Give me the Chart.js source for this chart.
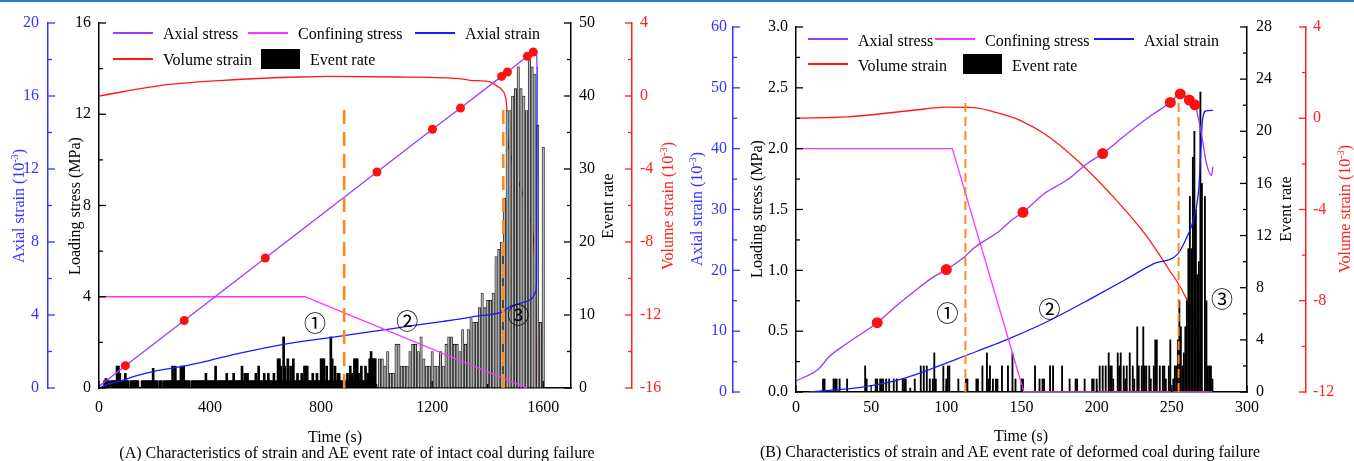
<!DOCTYPE html>
<html>
<head>
<meta charset="utf-8">
<script src="https://cdn.jsdelivr.net/npm/chart.js@4.4.1/dist/chart.umd.min.js"></script>
<style>
  html, body { margin: 0; padding: 0; background: #fff; }
  body { width: 1354px; height: 461px; position: relative; overflow: hidden;
         font-family: "Liberation Serif", "Times New Roman", serif; }
  canvas { position: absolute; top: 0; }
  .t { position: absolute; white-space: nowrap; font-size: 16px; line-height: 18px; color: #000; }
  .c { transform: translate(-50%, -50%); }
  .rot { transform: translate(-50%, -50%) rotate(-90deg); }
  .ln { position: absolute; height: 1.5px; width: 40px; }
  .box { position: absolute; width: 39px; height: 20px; background: #000; }
  sup { font-size: 10px; line-height: 0; vertical-align: 6px; }
</style>
</head>
<body>
<div style="position:absolute;left:0;top:0;width:1354px;height:2px;background:#2b7bbf"></div>
<canvas id="chartA" width="680" height="461" style="left:0"></canvas>
<canvas id="chartB" width="674" height="461" style="left:680px"></canvas>

<!-- legend, panel A -->
<div class="ln" style="left:113px;top:32px;background:#9a3cff"></div>
<div class="t" style="left:163px;top:25px">Axial stress</div>
<div class="ln" style="left:248px;top:32px;background:#ff33ff"></div>
<div class="t" style="left:298px;top:25px">Confining stress</div>
<div class="ln" style="left:415px;top:32px;background:#1a1aff"></div>
<div class="t" style="left:465px;top:25px">Axial strain</div>
<div class="ln" style="left:113px;top:58px;background:#ff1a1a"></div>
<div class="t" style="left:163px;top:51px">Volume strain</div>
<div class="box" style="left:261px;top:49px"></div>
<div class="t" style="left:310px;top:51px">Event rate</div>

<!-- legend, panel B -->
<div class="ln" style="left:808px;top:38px;background:#9a3cff"></div>
<div class="t" style="left:858px;top:32px">Axial stress</div>
<div class="ln" style="left:935px;top:38px;background:#ff33ff"></div>
<div class="t" style="left:985px;top:32px">Confining stress</div>
<div class="ln" style="left:1094px;top:38px;background:#1a1aff"></div>
<div class="t" style="left:1144px;top:32px">Axial strain</div>
<div class="ln" style="left:808px;top:63px;background:#ff1a1a"></div>
<div class="t" style="left:858px;top:57px">Volume strain</div>
<div class="box" style="left:963px;top:54px"></div>
<div class="t" style="left:1012px;top:57px">Event rate</div>

<!-- axis titles -->
<div class="t rot" style="left:19px;top:206px;color:#3535ff">Axial strain (10<sup>-3</sup>)</div>
<div class="t rot" style="left:75px;top:206px">Loading stress (MPa)</div>
<div class="t rot" style="left:608px;top:206px">Event rate</div>
<div class="t rot" style="left:668px;top:206px;color:#ff2020">Volume strain (10<sup>-3</sup>)</div>
<div class="t rot" style="left:697px;top:209px;color:#3535ff">Axial strain (10<sup>-3</sup>)</div>
<div class="t rot" style="left:757px;top:209px">Loading stress (MPa)</div>
<div class="t rot" style="left:1286px;top:209px">Event rate</div>
<div class="t rot" style="left:1345px;top:209px;color:#ff2020">Volume strain (10<sup>-3</sup>)</div>

<div class="t c" style="left:335px;top:437px">Time (s)</div>
<div class="t c" style="left:1021px;top:436px">Time (s)</div>
<div class="t c" style="left:357px;top:453px">(A) Characteristics of strain and AE event rate of intact coal during failure</div>
<div class="t c" style="left:1010px;top:452px">(B) Characteristics of strain and AE event rate of deformed coal during failure</div>

<script>
// ===== Panel A: intact coal =====
const timeA_stress   = [0, 95, 307, 599, 1001, 1201, 1302, 1450, 1471, 1543, 1564, 1576, 1578];
const stressA        = [0.07, 0.98, 2.96, 5.70, 9.47, 11.34, 12.27, 13.66, 13.85, 14.54, 14.73, 14.75, 14.0];
const timeA_dots     = [95, 307, 599, 1001, 1201, 1302, 1450, 1471, 1543, 1564];
const stressA_dots   = [0.98, 2.96, 5.70, 9.47, 11.34, 12.27, 13.66, 13.85, 14.54, 14.73];
const timeA_confine  = [0, 742, 1541];
const confineA       = [4, 4, 0];
const timeA_axial    = [0, 30, 72, 130, 198, 300, 400, 504, 670, 838, 1006, 1110, 1240, 1373, 1457, 1470, 1485, 1520, 1562, 1572, 1576, 1578];
const axialStrainA   = [0, 0.2, 0.36, 0.65, 0.91, 1.18, 1.52, 1.9, 2.41, 2.77, 3.14, 3.38, 3.65, 3.96, 4.2, 4.35, 4.5, 4.65, 4.95, 5.25, 5.9, 17.6];
const timeA_volume   = [0, 244, 483, 724, 832, 1073, 1312, 1337, 1409, 1433, 1451, 1463, 1469, 1471, 1481, 1517, 1547, 1565, 1571, 1577];
const volumeStrainA  = [0, 0.62, 0.89, 1.04, 1.07, 1.04, 0.93, 0.86, 0.78, 0.55, 0.34, 0, -0.75, -2.0, -3.1, -4.95, -6.4, -7.9, -9.7, -15.9];
const timeA_phase    = [883, 1456];       // stage boundaries (s)
// AE event rate, 0-995 s in 5 s bins
const eventStepA1 = 5;
const eventA1 = [
  0,0,0,0,1,1.3,1,1,0,1,   1,1,1,3,3,2,1,1,1,2,   1,1,0,1,1,1,1,1,1,0,   0,1,1,1,1,1,1,1,1,2.7,
  1,1,1,0,1,1,0,1,1,1,     1,1,1,3,1,3,1,1,1,3,   3,3,1,1,1,1,0,1,1,1,   1,1,1,1,1,1,1,2,1,1,
  1,1,1,1,3,1,1,1,1,1,     1,1,2,1,1,1,1,2,1,1,   1,1,1,3,1,2,2,2,1,1,   1,1,1,2,1,3,1,1,1,2,
  1,1,2,1,1,1,2,1,1,4,     4,3,1,7,3,1,4,1,3,1,   4,1,1,2,1,1,2,1,3,3,   3,1,1,1,2,1,1,2,1,1,
  4,4,4,1,3,1,1,7,4,1,     3,1,2,2,1,1,0,0,1,2,   1,3,2,1,4,4,4,2,1,3,   1,1,3,1,2,4,5,4,4,4
];
// AE event rate, 1010-1600 s in 10 s bins
const eventStartA2 = 1010, eventStepA2 = 10;
const eventA2 = [
  4,4,3,5,2,2,6,6,3,3,   3,5,6,6,5,7,4,3,3,5,   3,3,5,3,6,7,7,6,6,5,
  8,6,8,9.5,9,9,11,13,11,12,   12,13,18,19,20,26,38,38,40,41,   44,41,40,38,45,44,43,36,9,33
];
const stageLabelsA = ['\u2460', '\u2461', '\u2462'];
const stageTimeA   = [778, 1110, 1510];
const stageStressA = [2.86, 2.95, 3.21];
const ticksA = {
  x: [0, 400, 800, 1200, 1600],
  strain: [0, 4, 8, 12, 16, 20],
  stress: [0, 4, 8, 12, 16],
  event: [0, 10, 20, 30, 40, 50],
  volume: [-16, -12, -8, -4, 0, 4]
};

// ===== Panel B: deformed coal =====
const timeB_stress   = [0, 15, 22, 34, 54, 67, 80, 92, 100, 112, 118, 136, 143, 151, 165, 180, 194, 204, 220, 236, 249, 255.6, 261.6, 265.3, 268.5, 270.4, 273, 276.4, 277.3];
const stressB        = [0.09, 0.19, 0.29, 0.40, 0.57, 0.71, 0.84, 0.95, 1.006, 1.11, 1.18, 1.33, 1.41, 1.477, 1.63, 1.74, 1.88, 1.96, 2.12, 2.27, 2.38, 2.45, 2.40, 2.36, 2.2, 2.07, 1.88, 1.78, 1.85];
const timeB_dots     = [54, 100, 151, 204, 249, 255.6, 261.6, 265.3];
const stressB_dots   = [0.57, 1.006, 1.477, 1.96, 2.38, 2.45, 2.40, 2.36];
const timeB_confine  = [0, 104, 151.6, 277];
const confineB       = [2, 2, 0, 0];
const timeB_axial    = [9, 22, 36, 51, 67, 80, 93, 113, 131, 143, 169, 198, 220, 238, 254, 261, 264, 268, 269.3, 270.4, 272.7, 277.3];
const axialStrainB   = [0, 0.28, 0.55, 1.1, 1.92, 2.9, 4.1, 6.0, 7.7, 8.9, 11.8, 15.6, 18.6, 21.1, 22.7, 26, 28, 33.7, 39.7, 44.7, 46.2, 46.3];
const timeB_volume   = [0, 34, 78, 100, 118, 136, 149, 165, 187, 209, 232, 247, 258, 265, 268, 269.3];
const volumeStrainB  = [0, 0.06, 0.35, 0.49, 0.47, 0.20, -0.09, -0.67, -1.84, -3.3, -5.06, -6.52, -7.69, -8.86, -10.17, -12];
const timeB_phase    = [112.7, 254.5];
const eventTimeB = [
  18,19,25,26,27,29,34,46,47,53, 54,56,57,58,60,62,65,67,71,72, 73,76,79,83,85,87,89,91,92,93,
  98,100,101,102,108,113,114,120,121,124, 127,128,129,131,133,134,137,141,
  144,146,150,151,159,162,164,165,169,171, 177,182,186,187,192,197,198,200,202,204,
  206,208,209,210,211,214,215,216,218,219, 220,222,224,225,227,228,230,231,232,233,
  235,236,238,239,240,242,244,245,246,248, 249,251,252,
  253,254,255,256,257,258,259,260,261,262,263,264,265,266,267,268,269,270,272,273,274,275,276,277
];
const eventB = [
  1,1,1,1,1,1,1,2,1,1, 1,1,1,1,1,1,1,1,1,1, 1,0.3,1,2,2,2,1,1,3,1,
  2,1,2,2,1,1,1,1,1,2, 3,1,2,1,1,1,2,2,
  3,1,1,1,2,1,1,1,2,2, 2,1,1,1,1,1,1,1,2,2,
  2,3,2,2,1,3,2,3,2,1, 2,3,2,1,5,2,2,5,2,2,
  2,1,2,4,4,2,2,2,1,2, 4,1,2,
  2,4,7,5,2,3,5,7,11,15,11,18,20,14,9,10,23,16,15,7,2,2,2,1
];
const stageLabelsB = ['\u2460', '\u2461', '\u2462'];
const stageTimeB   = [100.7, 168.7, 283.3];
const stageStressB = [0.655, 0.688, 0.77];
const ticksB = {
  x: [0, 50, 100, 150, 200, 250, 300],
  strain: [0, 10, 20, 30, 40, 50, 60],
  stress: [0, 0.5, 1.0, 1.5, 2.0, 2.5, 3.0],
  event: [0, 4, 8, 12, 16, 20, 24, 28],
  volume: [-12, -8, -4, 0, 4]
};

// ===== shared helpers =====
const FONT = '"Liberation Serif", "Times New Roman", serif';
const C = { stress: '#9a3cff', confine: '#ff33ff', axial: '#1a1aff', volume: '#ff1a1a',
            dot: '#ff1010', phase: '#ff8a1c', strainAxis: '#3535ff', volAxis: '#ff2020' };
const pts = (xs, ys) => xs.map((x, i) => ({ x: x, y: ys[i] }));
const gridPts = (start, step, ys) => ys.map((y, i) => ({ x: start + i * step, y: y }));
const phasePts = (t, top) => [{ x: t, y: 0 }, { x: t, y: top }];

function yAxis(o) {
  return {
    type: 'linear', position: o.pos, min: o.min, max: o.max, weight: o.weight,
    grid: { display: true, drawOnChartArea: false, drawTicks: false },
    border: { display: true, color: o.color, width: 1.5 },
    ticks: { color: o.color, padding: o.pad, autoSkip: false,
             font: { family: FONT, size: 16 }, callback: o.fmt || (v => String(v)) },
    afterBuildTicks: s => { s.ticks = o.vals.map(v => ({ value: v })); },
    afterFit: s => { s.width = o.width; }
  };
}
function xAxis(o) {
  return {
    type: 'linear', position: 'bottom', min: 0, max: o.max, offset: false,
    grid: { display: true, drawOnChartArea: false, drawTicks: false },
    border: { display: true, color: '#000', width: 1.5 },
    ticks: { color: '#000', padding: o.pad, autoSkip: false,
             maxRotation: 0, font: { family: FONT, size: 16 }, callback: v => String(v) },
    afterBuildTicks: s => { s.ticks = o.vals.map(v => ({ value: v })); },
    afterFit: s => { s.height = o.height; }
  };
}

// inward-pointing major/minor tick marks and the circled stage numbers
function marksPlugin(specs, notes) {
  return {
    id: 'marks',
    afterDraw(chart) {
      const ctx = chart.ctx;
      specs.forEach(sp => {
        const sc = chart.scales[sp.id];
        ctx.save();
        ctx.strokeStyle = sp.color;
        ctx.lineWidth = 1.3;
        const n = Math.round((sp.max - sp.min) / sp.step);
        for (let i = 0; i <= n; i++) {
          const v = sp.min + i * sp.step;
          const len = (i % sp.every === 0) ? 7 : 4;
          const p = sc.getPixelForValue(v);
          ctx.beginPath();
          if (sc.position === 'left') { ctx.moveTo(sc.right, p); ctx.lineTo(sc.right + len, p); }
          else if (sc.position === 'right') { ctx.moveTo(sc.left, p); ctx.lineTo(sc.left - len, p); }
          else { ctx.moveTo(p, sc.top); ctx.lineTo(p, sc.top - len); }
          ctx.stroke();
        }
        ctx.restore();
      });
      const xs = chart.scales.x, ys = chart.scales.yStress;
      ctx.save();
      ctx.fillStyle = '#000';
      ctx.font = '22px "Noto Sans CJK SC", "DejaVu Sans", sans-serif';
      ctx.textAlign = 'center';
      ctx.textBaseline = 'middle';
      notes.labels.forEach((txt, i) => {
        ctx.fillText(txt, xs.getPixelForValue(notes.t[i]), ys.getPixelForValue(notes.s[i]));
      });
      ctx.restore();
    }
  };
}

function lineDs(data, color, axis, order, extra) {
  return Object.assign({ type: 'line', data: data, yAxisID: axis, order: order, borderColor: color,
    borderWidth: 1.3, pointRadius: 0, fill: false }, extra || {});
}

const baseOptions = {
  responsive: false, animation: false, devicePixelRatio: 1, events: [],
  plugins: { legend: { display: false }, tooltip: { enabled: false } }
};

// ----- chart A -----
new Chart(document.getElementById('chartA'), {
  type: 'line',
  data: { datasets: [
    lineDs(pts(timeA_dots, stressA_dots), C.dot, 'yStress', 0,
      { showLine: false, pointRadius: 4.5, pointBackgroundColor: C.dot, pointBorderWidth: 0 }),
    lineDs(phasePts(timeA_phase[0], 12.5), C.phase, 'yStress', 1, { borderWidth: 2.6, borderDash: [14, 8] }),
    lineDs(phasePts(timeA_phase[1], 12.5), C.phase, 'yStress', 1, { borderWidth: 2.6, borderDash: [14, 8] }),
    lineDs(pts(timeA_stress, stressA), C.stress, 'yStress', 2),
    lineDs(pts(timeA_confine, confineA), C.confine, 'yStress', 3),
    lineDs(pts(timeA_axial, axialStrainA), C.axial, 'yStrain', 4, { cubicInterpolationMode: 'monotone' }),
    { type: 'bar', data: gridPts(0, eventStepA1, eventA1), yAxisID: 'yEvent', order: 5, grouped: false,
      barThickness: 2, backgroundColor: '#000', borderWidth: 0 },
    { type: 'bar', data: gridPts(eventStartA2, eventStepA2, eventA2), yAxisID: 'yEvent', order: 5, grouped: false,
      barThickness: 2.4, backgroundColor: '#b8b8b8', borderColor: '#111', borderWidth: 0.8 },
    lineDs(pts(timeA_volume, volumeStrainA), C.volume, 'yVol', 6, { cubicInterpolationMode: 'monotone' })
  ]},
  options: Object.assign({}, baseOptions, {
    layout: { padding: { top: 23, left: 0, right: 0, bottom: 0 } },
    scales: {
      x: xAxis({ max: 1700, vals: ticksA.x, pad: 10, height: 73 }),
      yStrain: yAxis({ pos: 'left', min: 0, max: 20, vals: ticksA.strain, color: C.strainAxis, pad: 9, width: 48, weight: 1 }),
      yStress: yAxis({ pos: 'left', min: 0, max: 16, vals: ticksA.stress, color: '#000', pad: 8, width: 51, weight: 0 }),
      yEvent: yAxis({ pos: 'right', min: 0, max: 50, vals: ticksA.event, color: '#000', pad: 8, width: 61, weight: 0 }),
      yVol: yAxis({ pos: 'right', min: -16, max: 4, vals: ticksA.volume, color: C.volAxis, pad: 8, width: 48, weight: 1 })
    }
  }),
  plugins: [marksPlugin([
    { id: 'x', min: 0, max: 1600, step: 200, every: 2, color: '#000' },
    { id: 'yStrain', min: 0, max: 20, step: 2, every: 2, color: C.strainAxis },
    { id: 'yStress', min: 0, max: 16, step: 2, every: 2, color: '#000' },
    { id: 'yEvent', min: 0, max: 50, step: 5, every: 2, color: '#000' },
    { id: 'yVol', min: -16, max: 4, step: 2, every: 2, color: C.volAxis }
  ], { labels: stageLabelsA, t: stageTimeA, s: stageStressA })]
});

// ----- chart B -----
new Chart(document.getElementById('chartB'), {
  type: 'line',
  data: { datasets: [
    lineDs(pts(timeB_dots, stressB_dots), C.dot, 'yStress', 0,
      { showLine: false, pointRadius: 5.5, pointBackgroundColor: C.dot, pointBorderWidth: 0 }),
    lineDs(phasePts(timeB_phase[0], 2.42), C.phase, 'yStress', 1, { borderWidth: 2, borderDash: [9, 5] }),
    lineDs(phasePts(timeB_phase[1], 2.42), C.phase, 'yStress', 1, { borderWidth: 2, borderDash: [9, 5] }),
    lineDs(pts(timeB_stress, stressB), C.stress, 'yStress', 2, { cubicInterpolationMode: 'monotone' }),
    lineDs(pts(timeB_confine, confineB), C.confine, 'yStress', 3),
    lineDs(pts(timeB_axial, axialStrainB), C.axial, 'yStrain', 4, { cubicInterpolationMode: 'monotone' }),
    { type: 'bar', data: pts(eventTimeB, eventB), yAxisID: 'yEvent', order: 5, grouped: false,
      barThickness: 1.2, backgroundColor: '#000', borderWidth: 0 },
    lineDs(pts(timeB_volume, volumeStrainB), C.volume, 'yVol', 6, { cubicInterpolationMode: 'monotone' })
  ]},
  options: Object.assign({}, baseOptions, {
    layout: { padding: { top: 27, left: 0, right: 0, bottom: 0 } },
    scales: {
      x: xAxis({ max: 300, vals: ticksB.x, pad: 6, height: 69 }),
      yStrain: yAxis({ pos: 'left', min: 0, max: 60, vals: ticksB.strain, color: C.strainAxis, pad: 6, width: 53, weight: 1 }),
      yStress: yAxis({ pos: 'left', min: 0, max: 3, vals: ticksB.stress, color: '#000', pad: 8, width: 63, weight: 0,
                       fmt: v => v.toFixed(1) }),
      yEvent: yAxis({ pos: 'right', min: 0, max: 28, vals: ticksB.event, color: '#000', pad: 9, width: 59, weight: 0 }),
      yVol: yAxis({ pos: 'right', min: -12, max: 4, vals: ticksB.volume, color: C.volAxis, pad: 7, width: 48, weight: 1 })
    }
  }),
  plugins: [marksPlugin([
    { id: 'x', min: 0, max: 300, step: 50, every: 1, color: '#000' },
    { id: 'yStrain', min: 0, max: 60, step: 5, every: 2, color: C.strainAxis },
    { id: 'yStress', min: 0, max: 3, step: 0.25, every: 2, color: '#000' },
    { id: 'yEvent', min: 0, max: 28, step: 2, every: 2, color: '#000' },
    { id: 'yVol', min: -12, max: 4, step: 2, every: 2, color: C.volAxis }
  ], { labels: stageLabelsB, t: stageTimeB, s: stageStressB })]
});
</script>
</body>
</html>
